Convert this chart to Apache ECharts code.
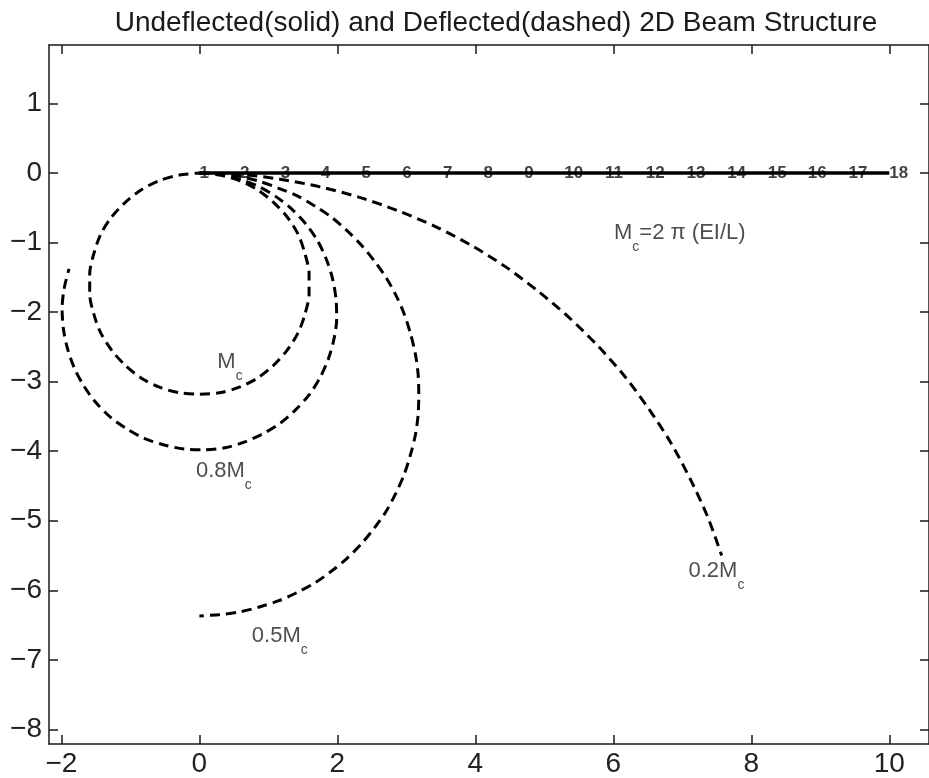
<!DOCTYPE html>
<html>
<head>
<meta charset="utf-8">
<script src="https://cdn.jsdelivr.net/npm/echarts@6/dist/echarts.min.js"></script>
<style>
  html, body { margin: 0; padding: 0; background: #fff; }
  #chart { width: 929px; height: 778px; }
</style>
</head>
<body>
<div id="chart"></div>
<script>
// undeflected beam nodes (solid)
const nodeX = [0, 0.59, 1.18, 1.76, 2.35, 2.94, 3.53, 4.12, 4.71, 5.29, 5.88, 6.47, 7.06, 7.65, 8.24, 8.82, 9.41, 10];
const nodeY = [0, 0, 0, 0, 0, 0, 0, 0, 0, 0, 0, 0, 0, 0, 0, 0, 0, 0];
const nodeLabels = ["1", "2", "3", "4", "5", "6", "7", "8", "9", "10", "11", "12", "13", "14", "15", "16", "17", "18"];

// deflected shapes (dashed)
const mcX = [0, 0.29, 0.58, 0.84, 1.07, 1.27, 1.43, 1.53, 1.59, 1.59, 1.53, 1.43, 1.27, 1.07, 0.84, 0.58, 0.29, 0,
  -0.29, -0.58, -0.84, -1.07, -1.27, -1.43, -1.53, -1.59, -1.59, -1.53, -1.43, -1.27, -1.07, -0.84, -0.58, -0.29, 0];
const mcY = [0, -0.03, -0.11, -0.24, -0.42, -0.63, -0.88, -1.16, -1.45, -1.74, -2.03, -2.30, -2.55, -2.77, -2.95, -3.08, -3.16, -3.18,
  -3.16, -3.08, -2.95, -2.77, -2.55, -2.30, -2.03, -1.74, -1.45, -1.16, -0.88, -0.63, -0.42, -0.24, -0.11, -0.03, 0];

const m08X = [0, 0.29, 0.58, 0.85, 1.11, 1.34, 1.54, 1.71, 1.84, 1.93, 1.98, 1.99, 1.95, 1.87, 1.75, 1.59, 1.39, 1.17,
  0.92, 0.65, 0.37, 0.07, -0.22, -0.51, -0.79, -1.05, -1.29, -1.50, -1.67, -1.81, -1.91, -1.97, -1.99, -1.96, -1.89];
const m08Y = [0, -0.02, -0.09, -0.19, -0.34, -0.52, -0.73, -0.97, -1.24, -1.52, -1.81, -2.10, -2.39, -2.67, -2.94, -3.19, -3.41, -3.60,
  -3.75, -3.87, -3.95, -3.98, -3.97, -3.91, -3.82, -3.68, -3.51, -3.30, -3.07, -2.81, -2.53, -2.25, -1.95, -1.66, -1.38];

const m05X = [0, 0.29, 0.59, 0.87, 1.15, 1.42, 1.68, 1.92, 2.14, 2.35, 2.54, 2.71, 2.85, 2.97, 3.06, 3.13, 3.17, 3.18,
  3.17, 3.13, 3.06, 2.97, 2.85, 2.71, 2.54, 2.35, 2.14, 1.92, 1.68, 1.42, 1.15, 0.87, 0.59, 0.29, 0];
const m05Y = [0, -0.01, -0.05, -0.12, -0.22, -0.33, -0.48, -0.64, -0.83, -1.04, -1.27, -1.51, -1.76, -2.03, -2.31, -2.60, -2.89, -3.18,
  -3.48, -3.77, -4.05, -4.33, -4.60, -4.86, -5.10, -5.33, -5.54, -5.72, -5.89, -6.03, -6.15, -6.24, -6.31, -6.35, -6.37];

const m02X = [0, 0.59, 1.17, 1.75, 2.32, 2.87, 3.42, 3.94, 4.44, 4.91, 5.36, 5.78, 6.17, 6.52, 6.84, 7.12, 7.37, 7.57];
const m02Y = [0, -0.02, -0.09, -0.20, -0.35, -0.54, -0.77, -1.04, -1.35, -1.70, -2.08, -2.49, -2.93, -3.40, -3.89, -4.41, -4.95, -5.50];

// annotations
const annX = [0.26, -0.05, 0.76, 7.09, 6.01];
const annY = [-2.72, -4.28, -6.66, -5.72, -0.86];
const annText = [
  "{m|M}{s|c}",
  "{m|0.8M}{s|c}",
  "{m|0.5M}{s|c}",
  "{m|0.2M}{s|c}",
  "{m|M}{s|c}{m|=2 \u03c0 (EI/L)}"
];

const xTicks = [-2, 0, 2, 4, 6, 8, 10];
const yTicks = [1, 0, -1, -2, -3, -4, -5, -6, -7, -8];

const FONT = "'Liberation Sans', Arial, Helvetica, sans-serif";
const INK = "#1a1a1a";

const pairs = (xs, ys) => xs.map((x, i) => [x, ys[i]]);
const minus = (v) => String(v).replace("-", "\u2212");

const chart = echarts.init(document.getElementById("chart"));

const axisCommon = {
  type: "value",
  axisLine: { onZero: false, lineStyle: { color: INK, width: 1.5 } },
  splitLine: { show: false },
};

const dashed = (name, xs, ys) => ({
  name,
  type: "line",
  data: pairs(xs, ys),
  smooth: 0.3,
  symbol: "none",
  lineStyle: { color: "#000", width: 3, type: [10, 6] },
  z: 4,
});

chart.setOption({
  animation: false,
  title: {
    text: "Undeflected(solid) and Deflected(dashed) 2D Beam Structure",
    left: 491,
    textAlign: "center",
    top: 4,
    textStyle: { fontFamily: FONT, fontSize: 28, fontWeight: "normal", color: INK },
  },
  grid: { left: 49, top: 45, width: 885, height: 699 },
  xAxis: [
    {
      ...axisCommon,
      position: "bottom",
      min: -2.18,
      max: 10.576,
      axisTick: { inside: true, length: 9, customValues: xTicks, lineStyle: { color: INK, width: 1.5 } },
      axisLabel: {
        customValues: xTicks,
        formatter: minus,
        fontFamily: FONT,
        fontSize: 28,
        color: "#222",
        margin: 6,
      },
    },
    {
      ...axisCommon,
      position: "top",
      min: -2.18,
      max: 10.576,
      axisTick: { inside: true, length: 9, customValues: xTicks, lineStyle: { color: INK, width: 1.5 } },
      axisLabel: { show: false },
    },
  ],
  yAxis: [
    {
      ...axisCommon,
      position: "left",
      min: -8.21,
      max: 1.84,
      axisTick: { inside: true, length: 9, customValues: yTicks, lineStyle: { color: INK, width: 1.5 } },
      axisLabel: {
        customValues: yTicks,
        formatter: minus,
        fontFamily: FONT,
        fontSize: 28,
        color: "#222",
        margin: 7,
      },
    },
    {
      ...axisCommon,
      position: "right",
      min: -8.21,
      max: 1.84,
      axisTick: { inside: true, length: 9, customValues: yTicks, lineStyle: { color: INK, width: 1.5 } },
      axisLabel: { show: false },
    },
  ],
  series: [
    {
      name: "nodes",
      type: "scatter",
      data: pairs(nodeX, nodeY),
      symbolSize: 0,
      z: 2,
      label: {
        show: true,
        position: "right",
        distance: 0,
        formatter: (p) => nodeLabels[p.dataIndex],
        fontFamily: FONT,
        fontSize: 17,
        fontWeight: "bold",
        color: "#111",
      },
    },
    {
      name: "undeflected",
      type: "line",
      data: pairs(nodeX, nodeY),
      symbol: "none",
      lineStyle: { color: "#000", width: 3.5 },
      z: 3,
    },
    dashed("Mc", mcX, mcY),
    dashed("0.8Mc", m08X, m08Y),
    dashed("0.5Mc", m05X, m05Y),
    dashed("0.2Mc", m02X, m02Y),
    {
      name: "notes",
      type: "scatter",
      data: pairs(annX, annY),
      symbolSize: 0,
      z: 5,
      label: {
        show: true,
        position: "right",
        distance: 0,
        formatter: (p) => annText[p.dataIndex],
        rich: {
          m: { fontFamily: FONT, fontSize: 22, color: "#222" },
          s: { fontFamily: FONT, fontSize: 14, color: "#222", padding: [28, 0, 0, 0] },
        },
      },
    },
  ],
});
</script>
</body>
</html>
